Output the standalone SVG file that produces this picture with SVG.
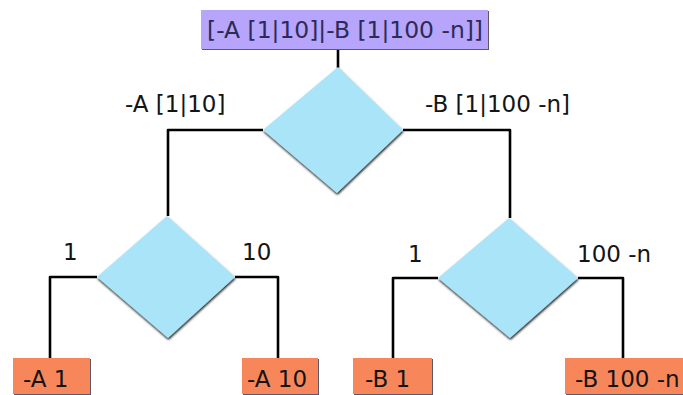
<svg xmlns="http://www.w3.org/2000/svg" width="683" height="395" viewBox="0 0 683 395">
<defs>
<filter id="sh" x="-20%" y="-20%" width="140%" height="140%">
<feDropShadow dx="0.5" dy="1.8" stdDeviation="1.1" flood-color="#000" flood-opacity="0.9"/>
</filter>
<filter id="bsh" x="-10%" y="-10%" width="120%" height="130%">
<feDropShadow dx="1" dy="1" stdDeviation="0.6" flood-color="#3a2a40" flood-opacity="0.8"/>
</filter>
</defs>
<style>
text{font-family:"DejaVu Sans",Verdana,sans-serif;font-size:23px;fill:#141414}
.conn path{fill:none;stroke:#000;stroke-width:2.6;stroke-linejoin:round}
.dia{fill:#a9e4f9;filter:url(#sh)}
.leaf rect{fill:#f7875a;filter:url(#bsh)}
.root rect{fill:#b7a4fb;filter:url(#bsh)}
.root text{fill:#2b2b58}
</style>
<rect width="683" height="395" fill="#fff"/>
<g class="conn" id="connectors">
<path d="M338 50 V68"/>
<path d="M263 130 H168 V216"/>
<path d="M403 130 H510 V218"/>
<path d="M97 277 H50 V358"/>
<path d="M235 277 H278 V358"/>
<path d="M438 278 H393 V358"/>
<path d="M578 278 H623 V358"/>
</g>
<g id="root" class="root">
<rect x="201" y="10" width="287" height="39"/>
<text x="207" y="38" textLength="276" lengthAdjust="spacingAndGlyphs">[-A [1|10]|-B [1|100 -n]]</text>
</g>
<g id="d-top"><polygon class="dia" points="338,67 403,130 337,193 263,130"/></g>
<g id="d-left"><polygon class="dia" points="167,216 235,277 168,338 97,277"/></g>
<g id="d-right"><polygon class="dia" points="509,218 578,278 510,338 438,278"/></g>
<g id="labels">
<text x="125" y="112">-A [1|10]</text>
<text x="425" y="112">-B [1|100 -n]</text>
<text x="63" y="260">1</text>
<text x="242" y="260">10</text>
<text x="408" y="262">1</text>
<text x="577" y="262">100 -n</text>
</g>
<g id="leaf-a1" class="leaf"><rect x="13" y="358" width="77" height="36"/><text x="23" y="387">-A 1</text></g>
<g id="leaf-a10" class="leaf"><rect x="242" y="358" width="76" height="36"/><text x="247" y="387">-A 10</text></g>
<g id="leaf-b1" class="leaf"><rect x="353" y="358" width="79" height="36"/><text x="365" y="387">-B 1</text></g>
<g id="leaf-b100" class="leaf"><rect x="565" y="358" width="125" height="36"/><text x="575" y="387">-B 100 -n</text></g>
</svg>
